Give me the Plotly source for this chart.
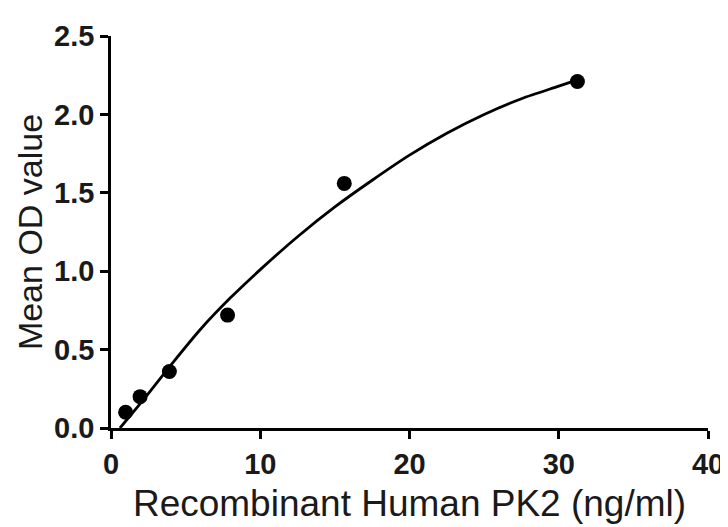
import plotly.graph_objects as go

# Measured standards
conc = [0.98, 1.95, 3.91, 7.81, 15.63, 31.25]
mean_od = [0.10, 0.20, 0.36, 0.72, 1.56, 2.21]

# Fitted curve
curve_x = [0.6, 2, 4, 6, 8, 10, 12.5, 15, 17.5, 20, 22.5, 25, 27.5, 30, 31.25]
curve_y = [0.0, 0.16, 0.40, 0.63, 0.83, 1.01, 1.22, 1.41, 1.58, 1.74, 1.88, 2.00, 2.10, 2.18, 2.22]

x_ticks = [0, 10, 20, 30, 40]
y_ticks = [0.0, 0.5, 1.0, 1.5, 2.0, 2.5]
y_tick_labels = ["0.0", "0.5", "1.0", "1.5", "2.0", "2.5"]

fig = go.Figure()
fig.add_trace(go.Scatter(x=curve_x, y=curve_y, mode="lines",
                         line=dict(color="black", width=2.8, shape="spline", smoothing=0.8),
                         hoverinfo="skip", cliponaxis=False))
fig.add_trace(go.Scatter(x=conc, y=mean_od, mode="markers",
                         marker=dict(color="black", size=15), cliponaxis=False))

font_family = "Liberation Sans, Arial, sans-serif"
fig.update_layout(
    width=728, height=527,
    margin=dict(l=103, r=25, t=20, b=107),
    paper_bgcolor="white", plot_bgcolor="white",
    showlegend=False,
    font=dict(family=font_family, color="#1a1a1a"),
)
axis_common = dict(showline=True, linecolor="black", linewidth=2.5,
                   ticks="outside", ticklen=8, tickwidth=2.5, tickcolor="black",
                   showgrid=False, zeroline=False,
                   tickfont=dict(family=font_family, size=29, color="#1a1a1a", weight="bold"))
fig.update_xaxes(range=[0, 40], tickvals=x_ticks,
                 title=dict(text="Recombinant Human PK2 (ng/ml)",
                            font=dict(family=font_family, size=37, color="#1a1a1a"), standoff=12),
                 **axis_common)
fig.update_yaxes(range=[0, 2.5], tickvals=y_ticks, ticktext=y_tick_labels,
                 title=dict(text="Mean OD value",
                            font=dict(family=font_family, size=34, color="#1a1a1a"), standoff=2),
                 **axis_common)

fig.write_html("out.html")
